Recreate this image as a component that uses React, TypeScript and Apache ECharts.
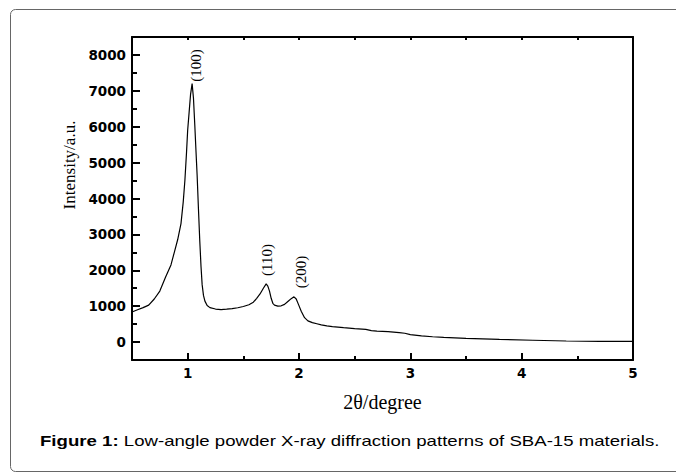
import React, { useEffect, useRef } from "react";
import * as echarts from "echarts";

const twoTheta = [
  0.5, 0.55, 0.6, 0.65, 0.7, 0.75, 0.8, 0.85, 0.88, 0.91, 0.94, 0.96, 0.975, 0.99,
  1.0, 1.013, 1.026, 1.04, 1.052, 1.064, 1.075, 1.085, 1.097, 1.109, 1.12, 1.13,
  1.142, 1.155, 1.175, 1.2, 1.25, 1.3, 1.35, 1.4, 1.45, 1.5, 1.55, 1.59, 1.62, 1.65,
  1.68, 1.705, 1.72, 1.735, 1.75, 1.765, 1.78, 1.81, 1.84, 1.87, 1.9, 1.93, 1.955,
  1.975, 1.995, 2.02, 2.05, 2.08, 2.12, 2.16, 2.2, 2.25, 2.3, 2.4, 2.5, 2.6, 2.65,
  2.7, 2.8, 2.9, 2.95, 3.0, 3.1, 3.2, 3.3, 3.5, 3.8, 4.1, 4.4, 4.7, 5.0,
];
const intensity = [
  836, 900, 960, 1030, 1200, 1420, 1800, 2150, 2500, 2850, 3300, 3900, 4500, 5300,
  5900, 6400, 6900, 7200, 6800, 6050, 5300, 4650, 3700, 2800, 2100, 1600,
  1300, 1140, 1020, 960, 920, 905, 915, 930, 955, 990, 1040, 1110, 1220, 1340,
  1500, 1620, 1560, 1420, 1220, 1080, 1030, 1000, 1010, 1050, 1130, 1210, 1260,
  1200, 1050, 860, 680, 590, 540, 510, 480, 450, 430, 400, 375, 355, 320,
  305, 290, 265, 245, 205, 170, 148, 130, 103, 75, 50, 30, 20, 18,
];

const xTickValues = [1, 2, 3, 4, 5];
const xMinorTickValues = [1.5, 2.5, 3.5, 4.5];
const xTopTickValues = [1, 1.5, 2, 2.5, 3, 3.5, 4, 4.5];
const yTickValues = [0, 1000, 2000, 3000, 4000, 5000, 6000, 7000, 8000];
const yMinorTickValues = [500, 1500, 2500, 3500, 4500, 5500, 6500, 7500];

const peakNames = ["(100)", "(110)", "(200)"];
const peakX = [1.073, 1.717, 2.022];
const peakY = [7250, 1840, 1500];

const xAxisName = "2θ/degree";
const yAxisName = "Intensity/a.u.";
const caption = "Low-angle powder X-ray diffraction patterns of SBA-15 materials.";

const SERIF = "'Liberation Serif', 'Times New Roman', serif";
const SANS = "'Liberation Sans', Arial, sans-serif";
const TICKFONT = "'DejaVu Sans', Arial, sans-serif";

export default function App() {
  const ref = useRef<HTMLDivElement>(null);

  useEffect(() => {
    if (!ref.current) return;
    const chart = echarts.init(ref.current, null, { renderer: "svg" });
    const xMin = 0.5, xMax = 5, yMin = -500, yMax = 8500;

    const data = twoTheta.map((x, i) => [x, intensity[i]]);

    const option: any = {
      animation: false,
      backgroundColor: "#ffffff",
      grid: { left: 132, right: 43, top: 37, bottom: 113, containLabel: false },
      xAxis: [
        {
          type: "value", position: "bottom", min: xMin, max: xMax,
          name: xAxisName, nameLocation: "middle", nameGap: 32,
          nameTextStyle: { fontFamily: SERIF, fontSize: 20, color: "#000" },
          axisLine: { show: true, onZero: false, lineStyle: { color: "#000", width: 2 } },
          axisTick: { show: true, inside: true, length: 7, customValues: xTickValues, lineStyle: { color: "#000", width: 2 } },
          axisLabel: { show: true, customValues: xTickValues, margin: 6, formatter: (v: number) => String(v), fontFamily: TICKFONT, fontWeight: "bold", fontSize: 13.5, color: "#000" },
          splitLine: { show: false },
        },
        {
          type: "value", position: "bottom", min: xMin, max: xMax,
          axisLine: { show: false, onZero: false },
          axisTick: { show: true, inside: true, length: 4, customValues: xMinorTickValues, lineStyle: { color: "#000", width: 2 } },
          axisLabel: { show: false },
          splitLine: { show: false },
        },
        {
          type: "value", position: "top", min: xMin, max: xMax,
          axisLine: { show: true, onZero: false, lineStyle: { color: "#000", width: 2 } },
          axisTick: { show: true, inside: true, length: 3, customValues: xTopTickValues, lineStyle: { color: "#000", width: 2 } },
          axisLabel: { show: false },
          splitLine: { show: false },
        },
      ],
      yAxis: [
        {
          type: "value", position: "left", min: yMin, max: yMax,
          name: yAxisName, nameLocation: "middle", nameGap: 54,
          nameTextStyle: { fontFamily: SERIF, fontSize: 17, color: "#000", padding: [0, 0, 0, 67] },
          axisLine: { show: true, onZero: false, lineStyle: { color: "#000", width: 2 } },
          axisTick: { show: true, inside: true, length: 8, customValues: yTickValues, lineStyle: { color: "#000", width: 2 } },
          axisLabel: { show: true, customValues: yTickValues, margin: 6, formatter: (v: number) => String(v), fontFamily: TICKFONT, fontWeight: "bold", fontSize: 13.5, color: "#000" },
          splitLine: { show: false },
        },
        {
          type: "value", position: "left", min: yMin, max: yMax,
          axisLine: { show: false, onZero: false },
          axisTick: { show: true, inside: true, length: 5, customValues: yMinorTickValues, lineStyle: { color: "#000", width: 2 } },
          axisLabel: { show: false },
          splitLine: { show: false },
        },
        {
          type: "value", position: "right", min: yMin, max: yMax,
          axisLine: { show: true, onZero: false, lineStyle: { color: "#000", width: 2 } },
          axisTick: { show: false },
          axisLabel: { show: false },
          splitLine: { show: false },
        },
      ],
      series: [
        {
          type: "line",
          xAxisIndex: 0,
          yAxisIndex: 0,
          data,
          showSymbol: false,
          symbol: "none",
          lineStyle: { color: "#000", width: 1.2 },
          markPoint: {
            symbol: "circle",
            symbolSize: 0,
            silent: true,
            label: {
              show: true,
              formatter: "{b}",
              position: [0, 0],
              rotate: 90,
              align: "left",
              verticalAlign: "middle",
              fontFamily: SERIF,
              fontSize: 15,
              color: "#000",
            },
            data: peakNames.map((n, i) => ({ name: n, coord: [peakX[i], peakY[i]] })),
          },
        },
      ],
      graphic: [
        {
          type: "rect",
          shape: { x: 10.5, y: 9.5, width: 700, height: 462, r: 5 },
          style: { fill: "none", stroke: "#666", lineWidth: 1 },
          silent: true,
        },
        {
          type: "text",
          x: 40,
          y: 441,
          scaleX: 1.33,
          style: {
            text: "{b|Figure 1:} " + caption,
            fontFamily: SANS,
            fontSize: 14,
            fill: "#000",
            verticalAlign: "middle",
            align: "left",
            rich: { b: { fontFamily: SANS, fontSize: 14, fontWeight: "bold", fill: "#000" } },
          },
        },
      ],
    };

    chart.setOption(option);
    return () => chart.dispose();
  }, []);

  return (
    <div
      ref={ref}
      style={{ position: "absolute", left: 0, top: 0, width: 676, height: 473, background: "#fff" }}
    />
  );
}
